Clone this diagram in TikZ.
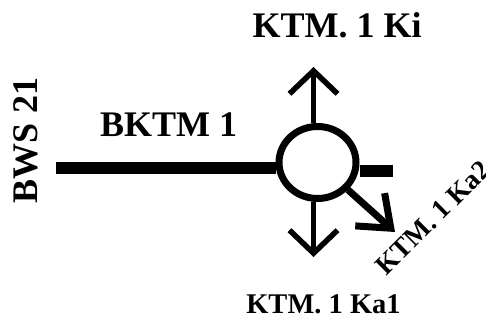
\documentclass[tikz,border=0pt]{standalone}
\usepackage{fontspec}
\setmainfont{Liberation Serif}
\usetikzlibrary{shapes.geometric,arrows.meta}
\tikzset{
  lbl/.style={font=\bfseries\fontsize{36}{36}\selectfont, inner sep=0pt},
  lblk/.style={font=\bfseries\fontsize{28.5}{28.5}\selectfont, inner sep=0pt},
  pil/.style={-{Straight Barb[length=23pt,width=48pt]}, line width=5.5pt},
}
\begin{document}
\begin{tikzpicture}[x=1pt,y=-1pt]
    \useasboundingbox (0,0) rectangle (486,320);
    \draw (317.5,162.5)node(rb)[draw, ellipse, line width=7pt, minimum width=77pt, minimum height=72pt, inner sep=0pt]{}
    (56,168)coordinate(bws) (393,171)coordinate(ka)
    (313.5,67)coordinate(ki) (313.5,257)coordinate(ka1) (395,232)coordinate(ka2);
    \draw [line width=12pt](bws)--(bws -| rb.west);
    \draw [line width=12pt](ka -| rb.east)--(ka);
    \draw [pil](ki |- rb.north)--(ki);
    \draw [pil](ka1 |- rb.south)--(ka1);
    \draw [pil, line width=7pt, -{Straight Barb[length=28pt,width=44pt]}](rb)--(ka2);
    \node(tki)[lbl, anchor=base] at (337,38){KTM. 1 Ki};
    \node(tbktm)[lbl, anchor=base] at (168.5,137){BKTM 1};
    \node(tbws)[lbl, anchor=base, rotate=90] at (37,140.5){BWS 21};
    \node(tka1)[lblk, anchor=base] at (323.5,313){KTM. 1 Ka1};
    \node(tka2)[lblk, font=\bfseries\fontsize{27.5}{27.5}\selectfont, rotate=45] at (433,218){KTM. 1 Ka2};
\end{tikzpicture}
\end{document}
